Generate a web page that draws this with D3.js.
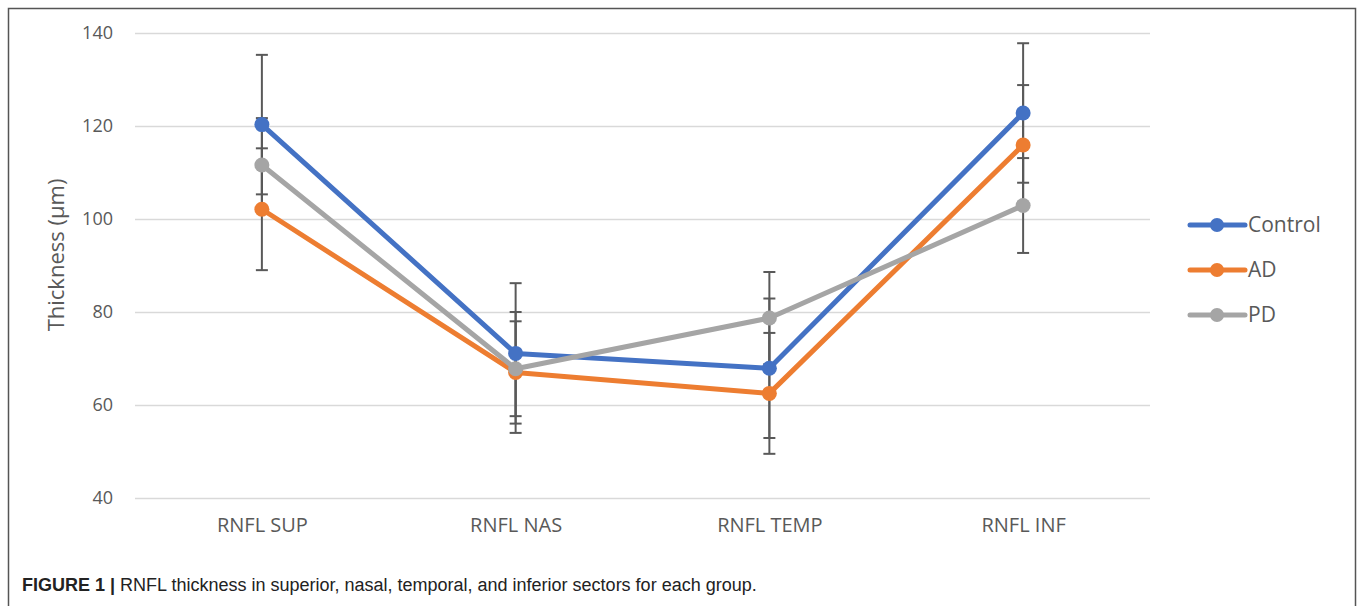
<!DOCTYPE html>
<html lang="en">
<head>
    <meta charset="utf-8">
    <title>RNFL thickness</title>
    <script type="text/javascript" src="https://cdnjs.cloudflare.com/ajax/libs/d3/7.8.5/d3.min.js"></script>
    <style>
      body { margin: 0; background: #fff; }
    </style>
</head>
<body>
    <script type="text/javascript">
      // data
      var sectors = ["RNFL SUP", "RNFL NAS", "RNFL TEMP", "RNFL INF"];
      var groups = ["Control", "AD", "PD"];
      var controlMean = [120.3, 71.1, 67.9, 122.8];
      var controlSD   = [15.0, 15.1, 15.0, 15.0];
      var adMean      = [102.1, 67.0, 62.5, 115.9];
      var adSD        = [13.1, 13.0, 13.0, 12.9];
      var pdMean      = [111.6, 67.8, 78.7, 102.9];
      var pdSD        = [10.1, 10.2, 9.9, 10.2];
      var yTicks = [40, 60, 80, 100, 120, 140];
      var colors = ["#4472C4", "#ED7D31", "#A5A5A5"];

      var series = [
        {name: groups[0], mean: controlMean, sd: controlSD, color: colors[0]},
        {name: groups[1], mean: adMean, sd: adSD, color: colors[1]},
        {name: groups[2], mean: pdMean, sd: pdSD, color: colors[2]}
      ];

      var width = 1357, height = 606;
      var plot = {left: 135, right: 1150, top: 33, bottom: 498};

      var svg = d3.select("body")
                  .append("svg")
                  .attr("width", width)
                  .attr("height", height);

      //frame
      svg.append("path")
         .attr("d", "M8.5,606 V8.5 H1355.5 V606")
         .attr("fill", "none")
         .attr("stroke", "#555")
         .attr("stroke-width", 1.5);

      var x = d3.scalePoint()
                .domain(sectors)
                .range([plot.left, plot.right])
                .padding(0.5);

      var y = d3.scaleLinear()
                .domain([40, 140])
                .range([plot.bottom, plot.top]);

      //gridlines + y labels
      var yAxis = d3.axisLeft(y)
                    .tickValues(yTicks)
                    .tickSize(-(plot.right - plot.left))
                    .tickPadding(22);

      var gy = svg.append("g")
                  .attr("transform", "translate(" + plot.left + ",0)")
                  .call(yAxis);
      gy.select(".domain").remove();
      gy.selectAll("line").attr("stroke", "#d9d9d9").attr("stroke-width", 1.5);
      gy.selectAll("text")
        .attr("fill", "#595959")
        .style("font-family", "'Open Sans', sans-serif")
        .style("font-size", "18px");

      //x labels
      var xAxis = d3.axisBottom(x).tickSize(0).tickPadding(20);
      var gx = svg.append("g")
                  .attr("transform", "translate(0," + plot.bottom + ")")
                  .call(xAxis);
      gx.select(".domain").remove();
      gx.selectAll("text")
        .attr("fill", "#595959")
        .style("font-family", "'Open Sans', sans-serif")
        .style("font-size", "20px");

      //y title
      svg.append("text")
         .attr("transform", "translate(64,255) rotate(-90)")
         .attr("text-anchor", "middle")
         .attr("fill", "#595959")
         .style("font-family", "'Open Sans', sans-serif")
         .style("font-size", "22px")
         .text("Thickness (\u00b5m)");

      //error bars
      var capHalf = 6;
      series.forEach(function(s) {
        var g = svg.append("g").attr("class", "errors");
        sectors.forEach(function(sec, i) {
          var cx = x(sec), hi = y(s.mean[i] + s.sd[i]), lo = y(s.mean[i] - s.sd[i]);
          g.append("line").attr("x1", cx).attr("x2", cx).attr("y1", hi).attr("y2", lo);
          g.append("line").attr("x1", cx - capHalf).attr("x2", cx + capHalf).attr("y1", hi).attr("y2", hi);
          g.append("line").attr("x1", cx - capHalf).attr("x2", cx + capHalf).attr("y1", lo).attr("y2", lo);
        });
        g.selectAll("line").attr("stroke", "#595959").attr("stroke-width", 2);
      });

      //lines and markers
      var line = d3.line()
                   .x(function(d, i) { return x(sectors[i]); })
                   .y(function(d) { return y(d); });

      series.forEach(function(s) {
        svg.append("path")
           .datum(s.mean)
           .attr("d", line)
           .attr("fill", "none")
           .attr("stroke", s.color)
           .attr("stroke-width", 5)
           .attr("stroke-linejoin", "round");
        svg.selectAll(null)
           .data(s.mean)
           .enter().append("circle")
           .attr("cx", function(d, i) { return x(sectors[i]); })
           .attr("cy", function(d) { return y(d); })
           .attr("r", 7.5)
           .attr("fill", s.color);
      });

      //legend
      var legend = svg.append("g").attr("transform", "translate(1190,225)");
      series.forEach(function(s, i) {
        var row = legend.append("g").attr("transform", "translate(0," + (i * 45) + ")");
        row.append("line")
           .attr("x1", 0).attr("x2", 55)
           .attr("stroke", s.color).attr("stroke-width", 5)
           .attr("stroke-linecap", "round");
        row.append("circle").attr("cx", 27).attr("r", 7).attr("fill", s.color);
        row.append("text")
           .attr("x", 58).attr("dy", "0.35em")
           .attr("fill", "#595959")
           .style("font-family", "'Open Sans', sans-serif")
           .style("font-size", "21px")
           .text(s.name);
      });

      //caption
      var cap = svg.append("text")
                   .attr("x", 22).attr("y", 591)
                   .attr("fill", "#222")
                   .style("font-family", "'Liberation Sans', Arial, sans-serif")
                   .style("font-size", "18px");
      cap.append("tspan").style("font-weight", "bold").text("FIGURE 1 | ");
      cap.append("tspan").text("RNFL thickness in superior, nasal, temporal, and inferior sectors for each group.");
    </script>
</body>
</html>
